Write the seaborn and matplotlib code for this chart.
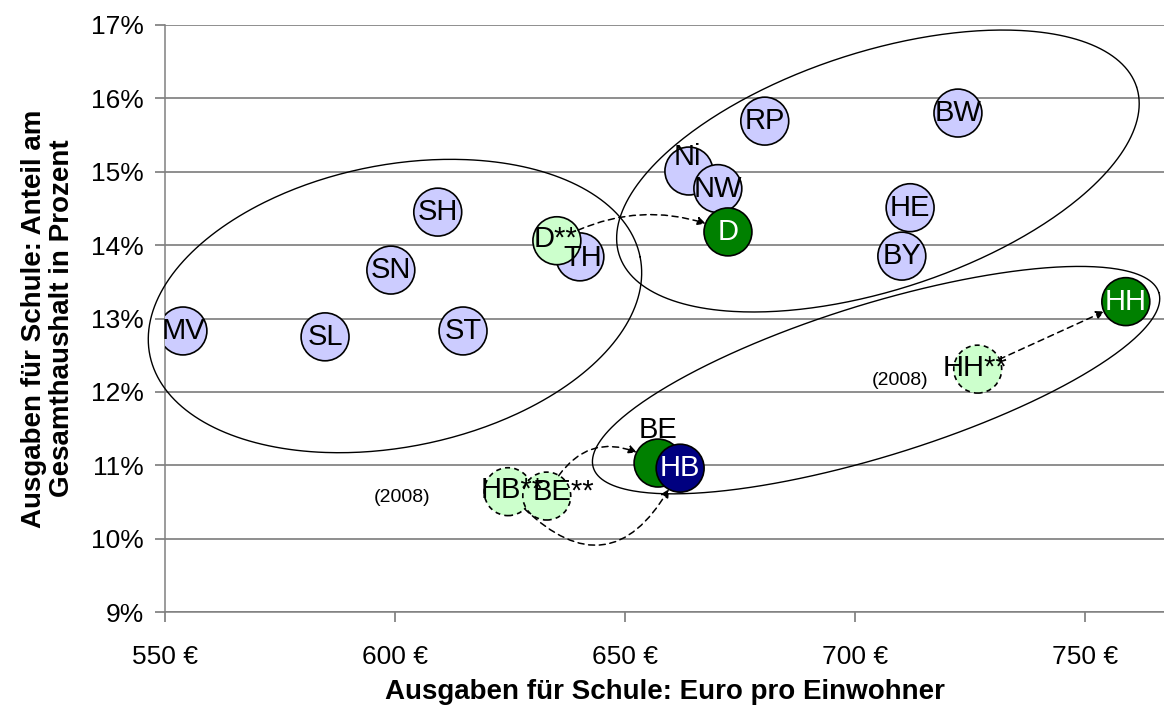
import numpy as np
import matplotlib
matplotlib.use("Agg")
import matplotlib.pyplot as plt
import seaborn as sns
import pandas as pd

# Bundeslaender: Euro pro Einwohner / Anteil am Gesamthaushalt (%)
laender = ["MV", "SL", "SN", "SH", "ST", "TH", "D**", "Ni", "NW", "D",
           "RP", "HE", "BY", "BW", "HH", "BE", "HB"]
euro = [553.9, 584.8, 599.1, 609.3, 614.8, 640.2, 635.2, 663.9, 670.2, 672.4,
        680.4, 712.0, 710.2, 722.4, 758.9, 657.2, 662.0]
anteil = [12.83, 12.75, 13.66, 14.45, 12.83, 13.84, 14.06, 15.01, 14.77, 14.18,
          15.69, 14.51, 13.85, 15.80, 13.23, 11.03, 10.96]
gruppe = ["Land", "Land", "Land", "Land", "Land", "Land", "2008", "Land", "Land", "Ist",
          "Land", "Land", "Land", "Land", "Ist", "Ist", "Bremen"]

# Werte 2008 (gestrichelt)
laender_2008 = ["HH**", "HB**", "BE**"]
euro_2008 = [726.7, 624.6, 633.0]
anteil_2008 = [12.31, 10.64, 10.58]

# Pfeile: von -> nach, Kruemmung
pfeile = [("D**", "D", -0.25), ("HH**", "HH", 0.0),
          ("BE**", "BE", -0.55), ("HB**", "HB", 0.75)]

# Gruppen-Ellipsen: Mitte (Euro, %), Halbachsen in Pixel, Winkel
ellipsen = [(600.0, 13.17, 250, 141, 11.3),
            (705.0, 15.01, 272, 119, 18.0),
            (704.6, 12.16, 296, 76, 17.2)]

farben = {"Land": "#CCCCFF", "Ist": "#008000", "Bremen": "#000080", "2008": "#CCFFCC"}

df = pd.DataFrame({"land": laender, "euro": euro, "anteil": anteil, "gruppe": gruppe})
df08 = pd.DataFrame({"land": laender_2008, "euro": euro_2008, "anteil": anteil_2008,
                     "gruppe": "2008"})

sns.set_theme(style="white")
plt.rcParams['font.family'] = ['Liberation Sans', 'DejaVu Sans']
plt.rcParams['text.color'] = 'black'
plt.rcParams['axes.labelcolor'] = 'black'
plt.rcParams['xtick.color'] = 'black'
plt.rcParams['ytick.color'] = 'black'

fig = plt.figure(figsize=(11.64, 7.08), dpi=100)
ax = fig.add_axes([165 / 1164, 96 / 708, 999 / 1164, 587 / 708])

# Ellipsen
xmin, xmax, ymin, ymax = 550, 767.2, 9, 17
sx = 999 / (xmax - xmin)
sy = 587 / (ymax - ymin)
phi = np.linspace(0, 2 * np.pi, 400)
for cx, cy, a, b, ang in ellipsen:
    t = np.deg2rad(ang)
    px = a * np.cos(phi) * np.cos(t) - b * np.sin(phi) * np.sin(t)
    py = a * np.cos(phi) * np.sin(t) + b * np.sin(phi) * np.cos(t)
    ax.plot(cx + px / sx, cy + py / sy, color="black", lw=1.0, zorder=4, clip_on=False)

size = 1190
sns.scatterplot(data=df, x="euro", y="anteil", hue="gruppe", palette=farben, s=size,
                edgecolor="black", linewidth=1.2, legend=False, ax=ax, zorder=3, clip_on=True)
sns.scatterplot(data=df08, x="euro", y="anteil", hue="gruppe", palette=farben, s=size,
                edgecolor="black", linewidth=1.2, linestyle=(0, (3, 2.5)), legend=False,
                ax=ax, zorder=3)

# Beschriftungen
versatz = {"BE": (0, 24), "Ni": (-1, 10), "HB**": (3, 1), "BE**": (12, 3), "HH**": (-2, 1),
           "TH": (2, -1), "D**": (-1, 1)}
dunkel = {"D", "HH", "HB"}
alle = pd.concat([df, df08], ignore_index=True)
for _, r in alle.iterrows():
    dx, dy = versatz.get(r["land"], (0, 0))
    ax.annotate(r["land"], (r["euro"], r["anteil"]), xytext=(dx, dy), textcoords="offset points",
                ha="center", va="center", fontsize=21,
                color="white" if r["land"] in dunkel else "black", zorder=6)

pos = alle.set_index("land")
for von, nach, rad in pfeile:
    ax.annotate("", xy=(pos.loc[nach, "euro"], pos.loc[nach, "anteil"]),
                xytext=(pos.loc[von, "euro"], pos.loc[von, "anteil"]),
                arrowprops=dict(arrowstyle="-|>", linestyle=(0, (4, 3)), color="black", lw=1.1,
                                connectionstyle=f"arc3,rad={rad}", shrinkA=17, shrinkB=17,
                                mutation_scale=12), zorder=5)

ax.text(709.8, 12.16, "(2008)", fontsize=14, ha="center", va="center")
ax.text(601.5, 10.56, "(2008)", fontsize=14, ha="center", va="center")

ax.set_xlim(xmin, xmax)
ax.set_ylim(ymin, ymax)
ax.set_xticks([550, 600, 650, 700, 750])
ax.set_xticklabels([f"{v} €" for v in [550, 600, 650, 700, 750]])
ax.set_yticks(range(9, 18))
ax.set_yticklabels([f"{v}%" for v in range(9, 18)])
ax.grid(axis="y", color="#707070", lw=1.1)
ax.set_axisbelow(True)
for s in ["top", "right"]:
    ax.spines[s].set_visible(False)
for s in ["left", "bottom"]:
    ax.spines[s].set_color("#808080")
    ax.spines[s].set_linewidth(1.1)
ax.tick_params(axis="x", direction="out", length=7, color="#808080", labelsize=19, pad=17, bottom=True)
ax.tick_params(axis="y", direction="out", length=7, color="#808080", labelsize=19, pad=8, left=True)
ax.set_xlabel("Ausgaben für Schule: Euro pro Einwohner", fontsize=20, fontweight="bold", labelpad=7)
ax.set_ylabel("Ausgaben für Schule: Anteil am\nGesamthaushalt in Prozent", fontsize=20,
              fontweight="bold", labelpad=12, linespacing=1.1)

fig.savefig("out.png", dpi=100)
